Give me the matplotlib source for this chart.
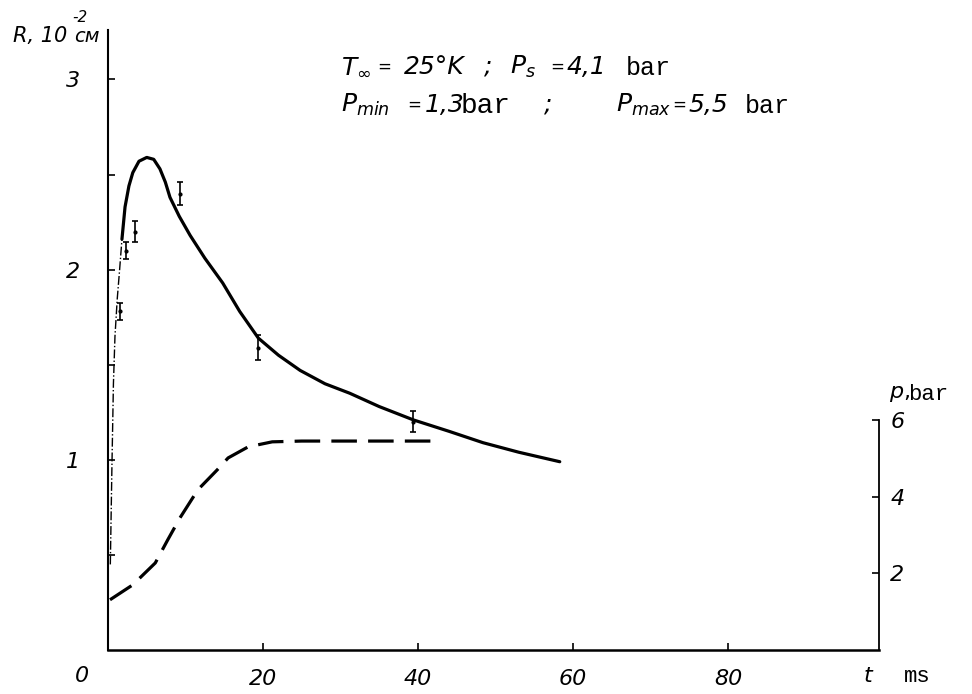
import matplotlib.pyplot as plt
import numpy as np

# radius R (10^-2 cm) vs time t (ms)
t_rise = [0.3, 0.5, 0.7, 0.9, 1.2, 1.5, 1.8]
r_rise = [0.45, 0.95, 1.4, 1.65, 1.85, 2.0, 2.16]

t_r = [1.8, 2.2, 2.7, 3.2, 4.0, 5.0, 5.9, 6.7, 7.4, 8.0, 9.2, 10.6, 12.5, 14.8, 17.0,
       19.4, 22.0, 24.8, 28.0, 31.2, 35.0, 39.4, 44.0, 48.4, 53.0, 58.3]
r = [2.16, 2.33, 2.44, 2.51, 2.57, 2.59, 2.58, 2.53, 2.46, 2.38, 2.28, 2.18, 2.06, 1.93, 1.78,
     1.64, 1.55, 1.47, 1.40, 1.35, 1.28, 1.21, 1.15, 1.09, 1.04, 0.99]

# measured points
t_meas = [1.5, 2.3, 3.5, 9.3, 19.4, 39.4]
r_meas = [1.78, 2.10, 2.20, 2.40, 1.59, 1.20]
r_err = [0.045, 0.045, 0.055, 0.06, 0.065, 0.055]

# pressure p (bar), dashed
t_p = [0.26, 3.2, 6.1, 7.7, 9.3, 11.6, 14.1, 15.5, 18.1, 21.2, 25.0, 42.8]
p = [1.31, 1.70, 2.27, 2.87, 3.45, 4.18, 4.70, 5.01, 5.30, 5.43, 5.45, 5.45]

plt.rcParams['mathtext.fontset'] = 'dejavusans'

W, H = 972, 694
fig = plt.figure(figsize=(W / 100, H / 100), dpi=100)
ax = fig.add_axes([108 / W, 1 - 650 / H, (879 - 108) / W, (650 - 30) / H])

def fx(px):
    return px / W

def fy(py):
    return 1 - py / H

ax.set_xlim(0, 99.5)
ax.set_ylim(0, 3.26)
ax.plot(t_rise, r_rise, color='k', lw=1.0, ls='-.')
ax.plot(t_r, r, color='k', lw=2.3, solid_capstyle='round')
ax.errorbar(t_meas, r_meas, yerr=r_err, fmt='none', ecolor='k', elinewidth=1.2,
            capsize=2.5, capthick=1.2)
ax.plot(t_meas, r_meas, 'k.', ms=4)

for s in ['top', 'right']:
    ax.spines[s].set_visible(False)
ax.spines['left'].set_linewidth(1.5)
ax.spines['bottom'].set_linewidth(1.8)

ax.set_xticks([20, 40, 60, 80])
ax.set_xticklabels(['20', '40', '60', '80'])
ax.set_yticks([0.5, 1, 1.5, 2, 2.5, 3])
ax.set_yticklabels(['', '1', '', '2', '', '3'])
ax.tick_params(direction='in', length=5, width=1.2, labelsize=16, pad=14)
ax.tick_params(axis='y', pad=20)
for lab in ax.get_xticklabels() + ax.get_yticklabels():
    lab.set_fontstyle('italic')

ax2 = ax.twinx()
ax2.set_ylim(0, 3.26 * 190 / 38.3)
ax2.plot(t_p, p, color='k', lw=2.3, ls=(0, (8, 3.5)))
for s in ['top', 'left', 'bottom']:
    ax2.spines[s].set_visible(False)
ax2.spines['right'].set_bounds(0, 6)
ax2.spines['right'].set_linewidth(1.3)
ax2.set_yticks([2, 4, 6])
ax2.tick_params(direction='in', length=5, width=1.2, labelsize=16, pad=8)
for lab in ax2.get_yticklabels():
    lab.set_fontstyle('italic')

# axis labels
fig.text(fx(82), fy(676), '0', fontsize=16, style='italic', ha='center', va='center')
fig.text(fx(868), fy(676), 't', fontsize=16, style='italic', ha='center', va='center')
fig.text(fx(904), fy(677), 'ms', fontsize=16, family='Liberation Mono', ha='left', va='center')

fig.text(fx(13), fy(36), 'R, 10', fontsize=15, style='italic', ha='left', va='center')
fig.text(fx(72), fy(18), '-2', fontsize=11, style='italic', ha='left', va='center')
fig.text(fx(74), fy(37), 'см', fontsize=14, style='italic', ha='left', va='center')

fig.text(fx(889), fy(394), r'$p$,', fontsize=16, ha='left', va='center')
fig.text(fx(908), fy(395), 'bar', fontsize=16, family='Liberation Mono', ha='left', va='center')

# conditions
y1, y2 = 67, 105
fs = 18
def it(px, py, s, size=fs):
    fig.text(fx(px), fy(py), s, fontsize=size, style='italic', ha='left', va='center')

def mono(px, py, s, size=18):
    fig.text(fx(px), fy(py + 1), s, fontsize=size, family='Liberation Mono',
             ha='left', va='center')

it(341, y1, r'$T_{\infty}$')
it(377, y1, '=', 12)
it(404, y1, '25°K')
it(484, y1, ';')
it(510, y1, r'$P_s$')
it(550, y1, '=', 12)
it(567, y1, '4,1')
mono(626, y1, 'bar')

it(341, y2, r'$P_{min}$')
it(407, y2, '=', 12)
it(425, y2, '1,3')
mono(461, y2, 'bar', 20)
it(544, y2, ';')
it(616, y2, r'$P_{max}$')
it(672, y2, '=', 12)
it(688, y2, '5,5')
mono(745, y2, 'bar')

fig.savefig('out.png', dpi=100)
